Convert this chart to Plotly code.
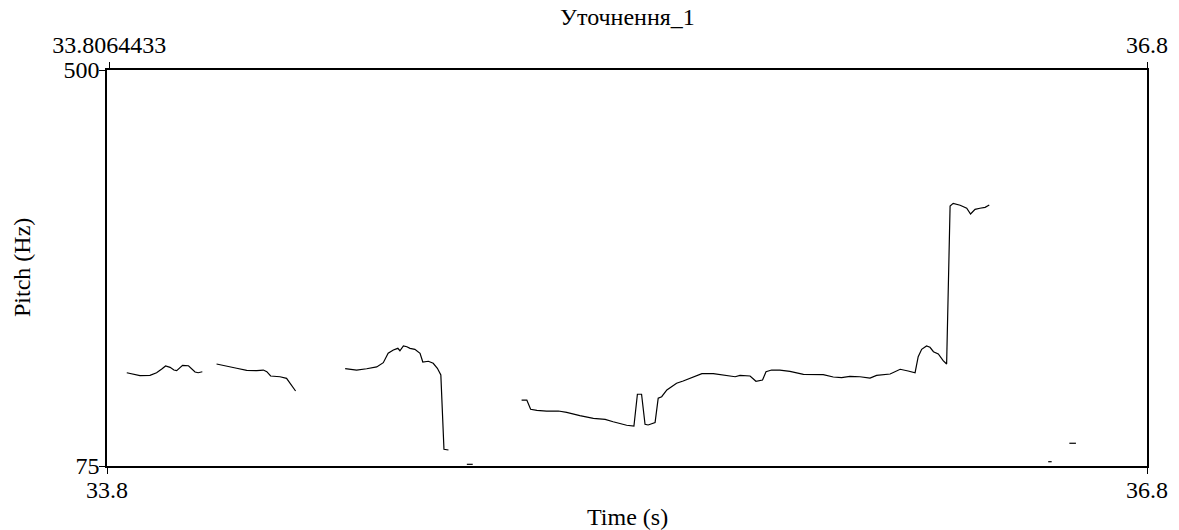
import plotly.graph_objects as go

# Pitch contour (Praat-style), voiced stretches stored as separate segments
t_seg1 = [33.857, 33.876, 33.895, 33.924, 33.943, 33.958, 33.969, 33.982, 33.993,
          34.001, 34.011, 34.018, 34.035, 34.044, 34.054, 34.063, 34.075]
f_seg1 = [175.1, 173.7, 171.9, 172.3, 175.1, 179.1, 182.3, 180.9, 178.0,
          177.3, 180.9, 183.1, 182.6, 179.9, 175.9, 175.1, 176.2]

t_seg2 = [34.116, 34.145, 34.174, 34.203, 34.232, 34.251, 34.261, 34.272,
          34.299, 34.318, 34.333, 34.344]
f_seg2 = [184.5, 182.6, 179.9, 177.7, 177.3, 178.0, 176.2, 171.6,
          170.8, 169.1, 161.9, 155.5]

t_seg3 = [34.487, 34.520, 34.549, 34.578, 34.597, 34.611, 34.626, 34.639, 34.645,
          34.655, 34.665, 34.674, 34.688, 34.703, 34.711, 34.727, 34.741, 34.753,
          34.763, 34.772, 34.785]
f_seg3 = [179.4, 178.0, 179.4, 181.3, 185.9, 196.0, 199.5, 201.3, 198.7,
          203.8, 203.0, 201.3, 200.2, 196.0, 186.6, 187.4, 185.2, 179.9,
          172.7, 92.9, 92.2]

t_seg4 = [34.838, 34.855]
f_seg4 = [76.8, 76.8]

t_seg5 = [34.996, 35.011, 35.022, 35.040, 35.068, 35.102, 35.126, 35.164, 35.203,
          35.237, 35.260, 35.299, 35.320, 35.330, 35.342, 35.352, 35.361, 35.381,
          35.390, 35.400, 35.415, 35.429, 35.443, 35.462, 35.491, 35.516, 35.549,
          35.578, 35.612, 35.626, 35.655, 35.672, 35.691, 35.701, 35.717, 35.741,
          35.770, 35.809, 35.837, 35.866, 35.895, 35.919, 35.943, 35.972, 36.001,
          36.020, 36.059, 36.088, 36.111, 36.131, 36.140, 36.150, 36.164, 36.174,
          36.184, 36.198, 36.212, 36.222, 36.232, 36.241, 36.261, 36.280, 36.291,
          36.304, 36.318, 36.333, 36.345]
f_seg5 = [145.8, 145.8, 135.9, 134.8, 134.0, 134.0, 132.6, 129.0, 126.2,
          125.1, 122.5, 118.7, 117.9, 152.0, 152.0, 119.8, 119.0, 121.5,
          147.7, 149.4, 156.6, 160.1, 163.8, 166.2, 170.2, 174.1, 174.1,
          172.7, 170.8, 172.3, 171.6, 165.9, 167.3, 176.2, 178.0, 178.0,
          176.6, 173.4, 173.0, 173.0, 170.5, 169.8, 171.2, 170.8, 169.4,
          172.3, 173.7, 178.8, 177.0, 175.1, 192.3, 200.2, 203.8, 202.4,
          197.7, 195.2, 188.0, 184.5, 354.0, 356.9, 354.8, 351.6, 345.5,
          350.5, 351.6, 352.6, 355.1]

t_seg6 = [36.515, 36.525]
f_seg6 = [79.6, 79.6]

t_seg7 = [36.576, 36.595]
f_seg7 = [99.4, 99.4]

segments = [(t_seg1, f_seg1), (t_seg2, f_seg2), (t_seg3, f_seg3), (t_seg4, f_seg4),
            (t_seg5, f_seg5), (t_seg6, f_seg6), (t_seg7, f_seg7)]

x_range = [33.8, 36.8]
y_range = [75, 500]
bottom_ticks = [33.8, 36.8]
bottom_labels = ["33.8", "36.8"]
top_ticks = [33.8064433, 36.8]
top_labels = ["33.8064433", "36.8"]
y_ticks = [75, 500]
y_labels = ["75", "500"]

title_text = "Уточнення_1"
x_title = "Time (s)"
y_title = "Pitch (Hz)"

FONT = "Liberation Serif"
FS = 24

fig = go.Figure()
for i, (t, f) in enumerate(segments):
    fig.add_trace(go.Scatter(
        x=t, y=f, mode="lines",
        line=dict(color="black", width=1.2),
        xaxis="x2" if i == len(segments) - 1 else "x",
        showlegend=False, hoverinfo="skip",
    ))

axis_common = dict(
    showgrid=False, zeroline=False, showline=True,
    linecolor="black", linewidth=1.6,
    ticks="outside", ticklen=6, tickwidth=1.4, tickcolor="black",
    tickfont=dict(family=FONT, size=FS, color="black"),
)

fig.update_layout(
    width=1179, height=530,
    margin=dict(l=107, r=32, t=70, b=64),
    paper_bgcolor="white", plot_bgcolor="white",
    font=dict(family=FONT, size=FS, color="black"),
    xaxis=dict(range=x_range, tickvals=bottom_ticks, ticktext=bottom_labels,
               ticklabelstandoff=-5, **axis_common),
    xaxis2=dict(range=x_range, tickvals=top_ticks, ticktext=top_labels,
                overlaying="x", side="top", **axis_common),
    yaxis=dict(range=y_range, tickvals=y_ticks, ticktext=y_labels,
               ticklabelstandoff=-5, mirror=True, **axis_common),
    annotations=[
        dict(text=title_text, x=0.5, y=1.134, xref="paper", yref="paper",
             showarrow=False, xanchor="center", yanchor="middle",
             font=dict(family=FONT, size=FS, color="black")),
        dict(text=x_title, x=0.5, y=-0.129, xref="paper", yref="paper",
             showarrow=False, xanchor="center", yanchor="middle",
             font=dict(family=FONT, size=FS, color="black")),
        dict(text=y_title, x=-0.0817, y=0.5, xref="paper", yref="paper",
             showarrow=False, xanchor="center", yanchor="middle", textangle=-90,
             font=dict(family=FONT, size=FS, color="black")),
    ],
)

fig.write_html("out.html")
